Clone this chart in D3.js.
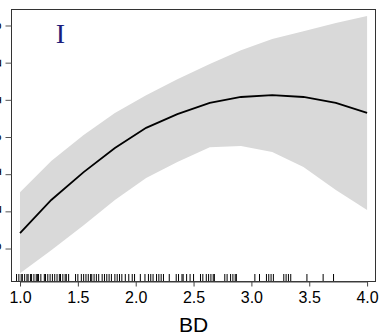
<!DOCTYPE html>
<html>
<head>
<meta charset="utf-8">
<script src="https://cdn.jsdelivr.net/npm/d3@7"></script>
<style>
  body { margin: 0; background: #fff; }
  svg { display: block; }
</style>
</head>
<body>
<div id="chart"></div>
<script>
// smooth term for BD: fit and confidence band
const bd = [1.0, 1.27, 1.55, 1.82, 2.09, 2.36, 2.64, 2.91, 3.18, 3.45, 3.73, 4.0];
const fit = [-2.57, -1.68, -0.93, -0.28, 0.26, 0.63, 0.93, 1.09, 1.14, 1.09, 0.93, 0.66];
const upper = [-1.47, -0.63, 0.07, 0.66, 1.14, 1.57, 1.98, 2.35, 2.65, 2.86, 3.08, 3.27];
const lower = [-3.65, -3.03, -2.36, -1.68, -1.09, -0.66, -0.26, -0.23, -0.39, -0.79, -1.41, -1.95];

// observed BD values (rug)
const rug = [0.97, 0.99, 1.01, 1.02, 1.04, 1.06, 1.07, 1.09, 1.10, 1.12, 1.14, 1.15, 1.16, 1.18,
  1.21, 1.22, 1.24, 1.26, 1.28, 1.30, 1.32, 1.34, 1.35, 1.37, 1.39, 1.40, 1.42, 1.48, 1.50,
  1.53, 1.55, 1.57, 1.59, 1.61, 1.62, 1.64, 1.66, 1.68, 1.71, 1.73, 1.75, 1.77, 1.79, 1.82,
  1.84, 1.86, 1.88, 1.91, 1.94, 1.97, 1.99, 2.04, 2.08, 2.11, 2.13, 2.15, 2.18, 2.20, 2.22,
  2.24, 2.29, 2.35, 2.37, 2.40, 2.41, 2.44, 2.47, 2.50, 2.56, 2.58, 2.61, 2.63, 2.65, 2.67,
  2.68, 2.77, 2.79, 2.82, 2.84, 2.86, 2.87, 3.03, 3.07, 3.13, 3.15, 3.17, 3.19, 3.28, 3.30,
  3.32, 3.34, 3.48, 3.62, 3.71];

const xTicks = [1.0, 1.5, 2.0, 2.5, 3.0, 3.5, 4.0];
const yTicks = [-3, -2, -1, 0, 1, 2, 3];
const panelLabel = 'I';
const xLabel = 'BD';

const width = 386, height = 332;
const margin = {top: 9, right: 10, bottom: 50, left: 11};

const svg = d3.select('#chart').append('svg')
  .attr('width', width)
  .attr('height', height);

const x = d3.scaleLinear()
  .domain([0.922, 4.077])
  .range([margin.left, width - margin.right]);

const y = d3.scaleLinear()
  .domain([-3.887, 3.457])
  .range([height - margin.bottom, margin.top]);

const pts = bd.map((d, i) => ({bd: d, fit: fit[i], lo: lower[i], hi: upper[i]}));

// confidence band
svg.append('path')
  .datum(pts)
  .attr('fill', '#d9d9d9')
  .attr('d', d3.area()
    .x(d => x(d.bd))
    .y0(d => y(d.lo))
    .y1(d => y(d.hi)));

// fitted line
svg.append('path')
  .datum(pts)
  .attr('fill', 'none')
  .attr('stroke', '#000')
  .attr('stroke-width', 1.8)
  .attr('d', d3.line()
    .x(d => x(d.bd))
    .y(d => y(d.fit)));

// rug
const yb = height - margin.bottom;
svg.append('g')
  .selectAll('line')
  .data(rug)
  .enter().append('line')
  .attr('x1', d => x(d)).attr('x2', d => x(d))
  .attr('y1', yb - 8).attr('y2', yb)
  .attr('stroke', '#000')
  .attr('stroke-width', 1);

// box
svg.append('rect')
  .attr('x', margin.left + 0.5)
  .attr('y', margin.top + 0.5)
  .attr('width', width - margin.left - margin.right - 1)
  .attr('height', height - margin.top - margin.bottom - 1)
  .attr('fill', 'none')
  .attr('stroke', '#333')
  .attr('stroke-width', 1);

// x axis
const xAxis = d3.axisBottom(x)
  .tickValues(xTicks)
  .tickFormat(d3.format('.1f'))
  .tickSize(5)
  .tickPadding(5)
  .tickSizeOuter(0);

const gx = svg.append('g')
  .attr('transform', 'translate(0,' + (yb - 0.5) + ')')
  .call(xAxis);
gx.select('.domain')
  .attr('d', 'M' + x(1) + ',0.5H' + x(4))
  .attr('stroke', '#444');
gx.selectAll('.tick line').attr('stroke', '#444');
gx.selectAll('text')
  .style('font-family', 'Liberation Sans, Arial, sans-serif')
  .style('font-size', '16px')
  .attr('fill', '#000');

// y axis (labels fall off the left edge like the original)
const gy = svg.append('g')
  .attr('transform', 'translate(' + (margin.left + 0.5) + ',0)');
gy.selectAll('line')
  .data(yTicks)
  .enter().append('line')
  .attr('x1', -6).attr('x2', 0)
  .attr('y1', d => y(d)).attr('y2', d => y(d))
  .attr('stroke', '#555');
gy.selectAll('text')
  .data(yTicks)
  .enter().append('text')
  .attr('transform', d => 'translate(-10.5,' + y(d) + ') rotate(-90)')
  .attr('text-anchor', 'middle')
  .style('font-family', 'Liberation Sans, Arial, sans-serif')
  .style('font-size', '15px')
  .text(d => d);

// axis title
svg.append('text')
  .attr('x', x(2.5))
  .attr('y', 332)
  .attr('text-anchor', 'middle')
  .style('font-family', 'Liberation Sans, Arial, sans-serif')
  .style('font-size', '21px')
  .text(xLabel);

// panel letter
svg.append('text')
  .attr('x', 60.5)
  .attr('y', 43)
  .attr('text-anchor', 'middle')
  .attr('fill', '#1c1c7c')
  .style('font-family', 'Liberation Serif, DejaVu Serif, serif')
  .style('font-size', '28px')
  .text(panelLabel);
</script>
</body>
</html>
